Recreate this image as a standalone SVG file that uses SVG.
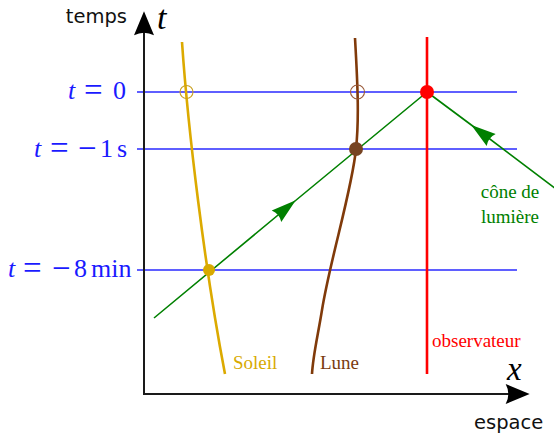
<svg xmlns="http://www.w3.org/2000/svg" width="554" height="434" viewBox="0 0 554 434">
<style>
.sans{font-family:"DejaVu Sans","Liberation Sans",sans-serif;font-size:19.5px;fill:#111}
.ser{font-family:"Liberation Serif","DejaVu Serif",serif}
.math{font-family:"Liberation Serif","DejaVu Serif",serif;font-size:26px;fill:#1a1aff}
.op{font-size:33px}
.lbl{font-family:"Liberation Serif","DejaVu Serif",serif;font-size:19px}
.it{font-style:italic}
.hl{stroke:#2a2aff;stroke-width:1.3;fill:none}
.axis{stroke:#1a1a1a;stroke-width:2;fill:none}
.cone{stroke:#008000;stroke-width:1.6;fill:none}
</style>
<defs>
<marker id="axarrow" markerUnits="userSpaceOnUse" orient="auto" markerWidth="40" markerHeight="40" refX="0" refY="0" viewBox="-10 -10 30 20" overflow="visible">
<path d="M14,0 L-4,-7.5 Q0,0 -4,7.5 Z" fill="#000"/>
</marker>
<marker id="conearrow" markerUnits="userSpaceOnUse" orient="auto" markerWidth="40" markerHeight="40" refX="0" refY="0" viewBox="-30 -10 40 20" overflow="visible">
<path d="M1,0 L-24,-7.5 Q-20,0 -24,7.5 Z" fill="#008000"/>
</marker>
</defs>
<rect width="554" height="434" fill="#fff"/>

<g id="timelines">
<line class="hl" x1="137" y1="92" x2="517" y2="92"/>
<line class="hl" x1="137" y1="149" x2="517" y2="149"/>
<line class="hl" x1="137" y1="270" x2="517" y2="270"/>
</g>

<g id="axes">
<line class="axis" x1="144" y1="395" x2="144" y2="30" marker-end="url(#axarrow)"/>
<line class="axis" x1="143" y1="394" x2="511" y2="394" marker-end="url(#axarrow)"/>
<text class="sans" x="127" y="23" text-anchor="end">temps</text>
<text class="sans" x="474" y="429">espace</text>
<text class="ser it" x="157" y="29" font-size="34">t</text>
<text class="ser it" x="507" y="380" font-size="33">x</text>
</g>

<g id="time-labels">
<text class="math" y="99"><tspan class="it" x="68">t</tspan><tspan class="op" x="84" y="100.5">=</tspan><tspan x="113" y="99">0</tspan></text>
<text class="math" y="157"><tspan class="it" x="34">t</tspan><tspan class="op" x="50" y="158.5">=</tspan><tspan class="op" x="78" y="158.5">−</tspan><tspan x="100" y="157">1</tspan><tspan x="117">s</tspan></text>
<text class="math" y="277"><tspan class="it" x="8">t</tspan><tspan class="op" x="23" y="278.5">=</tspan><tspan class="op" x="52" y="278.5">−</tspan><tspan x="74" y="277">8</tspan><tspan x="91">min</tspan></text>
</g>

<g id="connectors">
<path class="cone" d="M154,318 L295,201 L427,92" marker-mid="url(#conearrow)"/>
<path class="cone" d="M556,189 L472,125.5 L427,92" marker-mid="url(#conearrow)"/>
</g>

<g id="soleil">
<path d="M182,42 C188,130 205,270 225,374" stroke="#dcaa00" stroke-width="2.6" fill="none"/>
<circle cx="186.5" cy="92" r="6.5" fill="none" stroke="#c9a020" stroke-width="1.1"/>
<circle cx="209" cy="270" r="6" fill="#d8aa00"/>
<text class="lbl" x="233" y="369" fill="#d8aa00">Soleil</text>
</g>

<g id="lune">
<path d="M355,38 C358,90 359,120 356,149 C352,190 330,260 322,310 C318,335 313,355 312,374" stroke="#803a0a" stroke-width="2.6" fill="none"/>
<circle cx="357.5" cy="92" r="7" fill="none" stroke="#9a5a3a" stroke-width="1.1"/>
<circle cx="356" cy="149" r="7" fill="#774422"/>
<text class="lbl" x="320" y="369" fill="#7a3a10">Lune</text>
</g>

<g id="observateur">
<line x1="427" y1="37" x2="427" y2="374" stroke="#ff0000" stroke-width="2.6"/>
<circle cx="427" cy="92" r="7" fill="#ff0000"/>
<text class="lbl" x="432" y="347" fill="#ff0000">observateur</text>
</g>

<g id="cone-label">
<text class="lbl" x="510" y="198" text-anchor="middle" fill="#008000">cône de</text>
<text class="lbl" x="510" y="223" text-anchor="middle" fill="#008000">lumière</text>
</g>
</svg>
